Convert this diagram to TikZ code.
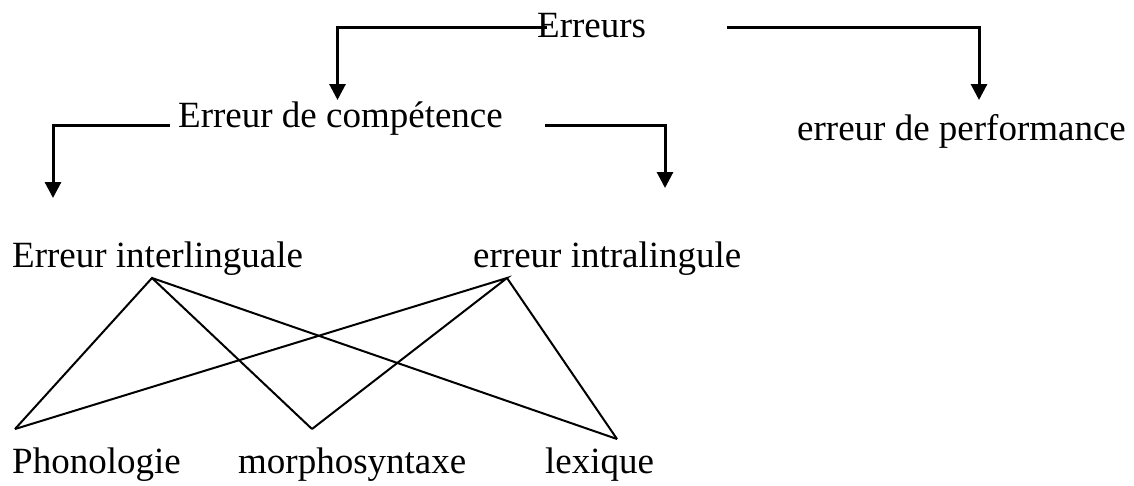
\documentclass[tikz,border=0pt]{standalone}
\usepackage{fontspec}
\setmainfont{Liberation Serif}
\usetikzlibrary{arrows.meta}
\tikzset{
  lbl/.style={anchor=base west,inner sep=0pt,font=\fontsize{37}{44}\selectfont},
  arr/.style={line width=3pt,-{Triangle[width=16pt,length=16pt]}},
  link/.style={line width=2pt}
}
\begin{document}
\begin{tikzpicture}[x=1pt,y=-1pt]
\useasboundingbox (0,0) rectangle (1134,485);
% texts
\node[lbl] (err) at (537,37) {Erreurs};
\node[lbl] (comp) at (178,127) {Erreur de compétence};
\node[lbl] (perf) at (797,140) {erreur de performance};
\node[lbl] (inter) at (12,267) {Erreur interlinguale};
\node[lbl] (intra) at (473,267) {erreur intralingule};
\node[lbl] (phon) at (12,473) {Phonologie};
\node[lbl] (morph) at (238,473) {morphosyntaxe};
\node[lbl] (lex) at (545,473) {lexique};
% connector points
\coordinate (e1) at (547,27);
\coordinate (e2) at (727,27);
\coordinate (tComp) at (337.5,100);
\coordinate (tPerf) at (979,100);
\coordinate (c1) at (170,125);
\coordinate (c2) at (545,125);
\coordinate (tInter) at (53,198);
\coordinate (tIntra) at (665,188);
\coordinate (aInter) at (152,278);
\coordinate (aIntra) at (507,278);
\coordinate (vPhon) at (15,429);
\coordinate (vMorph) at (312,429);
\coordinate (vLex) at (617,439);
% arrows
\draw[arr] (e1) -| (tComp);
\draw[arr] (e2) -| (tPerf);
\draw[arr] (c1) -| (tInter);
\draw[arr] (c2) -| (tIntra);
% links
\draw[link] (vPhon) -- (aInter) -- (vMorph);
\draw[link] (aInter) -- (vLex);
\draw[link] (vPhon) -- (aIntra) -- (vMorph);
\draw[link] (aIntra) -- (vLex);
\end{tikzpicture}
\end{document}
